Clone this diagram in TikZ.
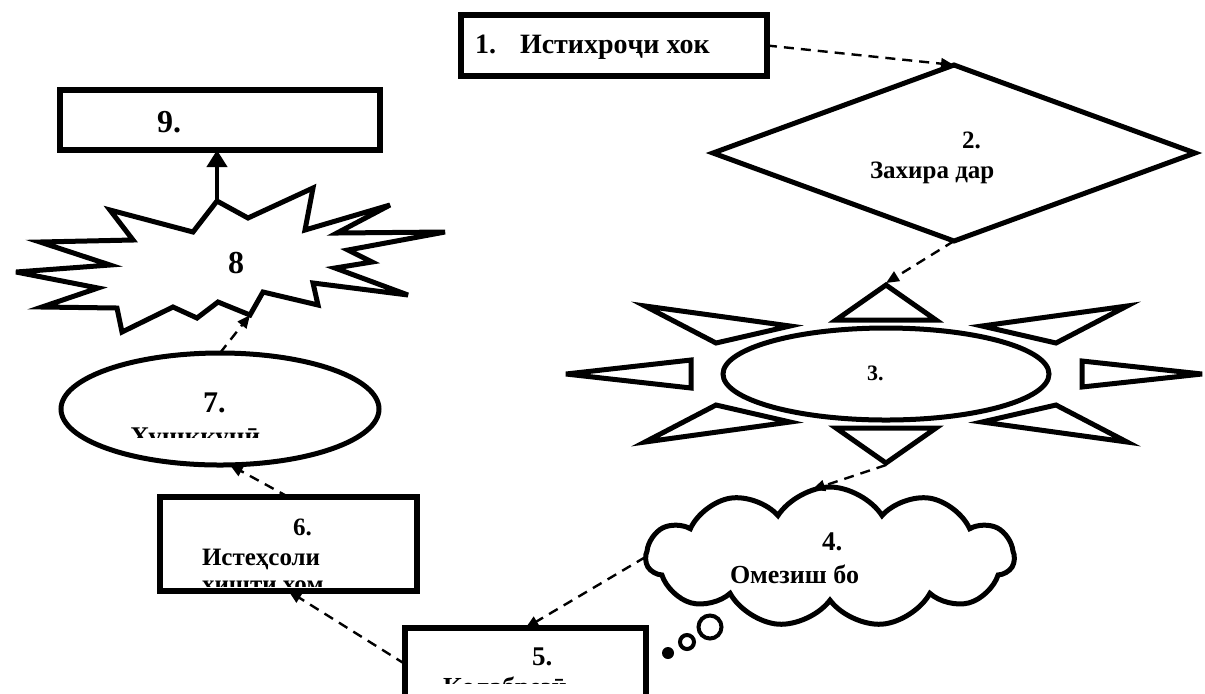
\documentclass[tikz,border=0pt]{standalone}
\usepackage{fontspec}
\setmainfont{Liberation Serif}
\usepackage{tikz}
\usetikzlibrary{shapes.geometric,shapes.symbols,arrows.meta,calc}
\tikzset
{
    stagebox/.style = {rectangle, draw=black, line width=3pt, anchor=center},
    stageshape/.style = {draw=black, line width=2.5pt, fill=white, anchor=center},
    stagelabel/.style = {anchor=base west, font=\bfseries},
    sunray/.style = {draw=black, line width=2.5pt, line join=miter, miter limit=6},
    flow/.style = {draw=black, line width=1.2pt, dash pattern=on 5pt off 3.5pt,
                   -{Triangle[length=6.5pt,width=5.5pt]}}
}
\newcommand{\sz}[1]{\fontsize{#1}{#1}\selectfont}

\begin{document}
\begin{tikzpicture}[
        % one unit is one pixel of the sheet, y runs downwards
        x=0.5pt, y=-0.5pt,
        every node/.style={inner sep=0pt, outer sep=0pt}
      ]
    \clip (0,0) rectangle (1205,693);

    % 1. box
    \node[stagebox, minimum width=153pt, minimum height=30.5pt] (hok) at (614,45.5) {};
    \node[stagelabel, font=\bfseries\sz{14pt}] (hoktxt) at (475,53) {1.\hspace{12pt}Истихроҷи хок};

    % 2. diamond
    \node[stageshape, diamond, minimum width=241pt, minimum height=88pt] (zahira) at (954,153) {};
    \node[stagelabel, font=\bfseries\sz{12.5pt}] (zahiranum) at (962,148) {2.};
    \node[stagelabel, font=\bfseries\sz{12.5pt}] (zahiratxt) at (870,178) {Захира дар};

    % 3. sun
    \node[stageshape, ellipse, minimum width=163pt, minimum height=46pt] (sun) at (886,374) {};
    \begin{scope}[shift={(sun.center)}]
        \draw[sunray] (0,-89) -- (-50,-54) -- (50,-54) -- cycle;
        \draw[sunray] (0,89) -- (-50,54) -- (50,54) -- cycle;
        \draw[sunray] (-320,0) -- (-195,-14) -- (-195,14) -- cycle;
        \draw[sunray] (316,0) -- (196,-13) -- (196,13) -- cycle;
        \draw[sunray] (-241,-68) -- (-96,-48) -- (-170,-31) -- cycle;
        \draw[sunray] (241,-68) -- (96,-48) -- (170,-31) -- cycle;
        \draw[sunray] (-241,68) -- (-96,48) -- (-170,31) -- cycle;
        \draw[sunray] (241,68) -- (96,48) -- (170,31) -- cycle;
        \coordinate (raytop) at (0,-91);
        \coordinate (raybot) at (0,91);
    \end{scope}
    \node[stagelabel, font=\bfseries\sz{11pt}] (suntxt) at (867,380) {3.};

    % 4. cloud
    \node[stageshape, cloud, cloud puffs=11, cloud puff arc=115, cloud ignores aspect,
          minimum width=184pt, minimum height=70pt] (oblako) at (830,557) {};
    \node[circle, draw=black, line width=2pt, minimum size=11.5pt] (puffa) at (710,627) {};
    \node[circle, draw=black, line width=2pt, minimum size=7pt] (puffb) at (687,642) {};
    \node[circle, fill=black, minimum size=6pt] (puffc) at (668,653) {};
    \node[stagelabel, font=\bfseries\sz{13.5pt}] (oblakonum) at (822,550) {4.};
    \node[stagelabel, font=\bfseries\sz{13pt}] (oblakotxt) at (730,583) {Омезиш бо};

    % 5. box
    \node[stagebox, minimum width=120.5pt, minimum height=36pt] (kolab) at (525.5,664) {};
    \node[stagelabel, font=\bfseries\sz{13.5pt}] (kolabnum) at (532,665) {5.};
    \begin{scope}
        \clip (430,674) rectangle (600,683);
        \node[stagelabel, font=\bfseries\sz{13pt}] (kolabtxt) at (443,695) {Қолабрезӣ};
    \end{scope}

    % 6. box
    \node[stagebox, minimum width=128.5pt, minimum height=47pt] (six) at (288.5,544) {};
    \node[stagelabel, font=\bfseries\sz{12.5pt}] (sixnum) at (293,535) {6.};
    \node[stagelabel, font=\bfseries\sz{12.5pt}] (sixtxt) at (202,565) {Истеҳсоли};
    \begin{scope}
        \clip (195,575) rectangle (345,586);
        \node[stagelabel, font=\bfseries\sz{12.5pt}] (sixtxtb) at (202,592) {хишти хом};
    \end{scope}

    % 7. ellipse
    \node[stageshape, ellipse, minimum width=159pt, minimum height=56pt] (hushk) at (220,409) {};
    \node[stagelabel, font=\bfseries\sz{15pt}] (hushknum) at (203,412) {7.};
    \begin{scope}
        \clip (120,420) rectangle (280,437);
        \node[stagelabel, font=\bfseries\sz{13.5pt}] (hushktxt) at (130,445) {Хушккунӣ};
    \end{scope}

    % 8. explosion
    \draw[sunray] (217,201) -- (248,218) -- (313,188) -- (305,230) -- (390,205)
        -- (337,233) -- (445,232) -- (348,250) -- (372,262) -- (335,268)
        -- (408,295) -- (313,283) -- (318,305) -- (263,292) -- (250,315)
        -- (218,302) -- (197,318) -- (173,307) -- (122,332) -- (117,308)
        -- (42,307) -- (98,288) -- (16,272) -- (110,265) -- (40,242)
        -- (133,240) -- (110,210) -- (193,232) -- cycle;
    \coordinate (boomtop) at (217,201);
    \coordinate (boomtip) at (250,315);
    \node[stagelabel, font=\bfseries\sz{16pt}] (boomtxt) at (228,273) {8};

    % 9. box
    \node[stagebox, minimum width=160pt, minimum height=30pt] (nine) at (220,120) {};
    \node[stagelabel, font=\bfseries\sz{16pt}] (ninetxt) at (157,132) {9.};

    % connectors
    \draw[flow] (hok.east) -- (zahira.north);
    \draw[flow] (zahira.south) -- (raytop);
    \draw[flow] (raybot) -- (oblako.105);
    \draw[flow] (oblako.west) -- (kolab.north);
    \draw[flow] (kolab.west) -- (six.south);
    \draw[flow] (six.north) -- (hushk.-80);
    \draw[flow] (hushk.north) -- (boomtip);
    \draw[line width=2pt, -{Triangle[length=8.5pt,width=10pt]}] (boomtop) -- (boomtop |- nine.south);
\end{tikzpicture}
\end{document}
